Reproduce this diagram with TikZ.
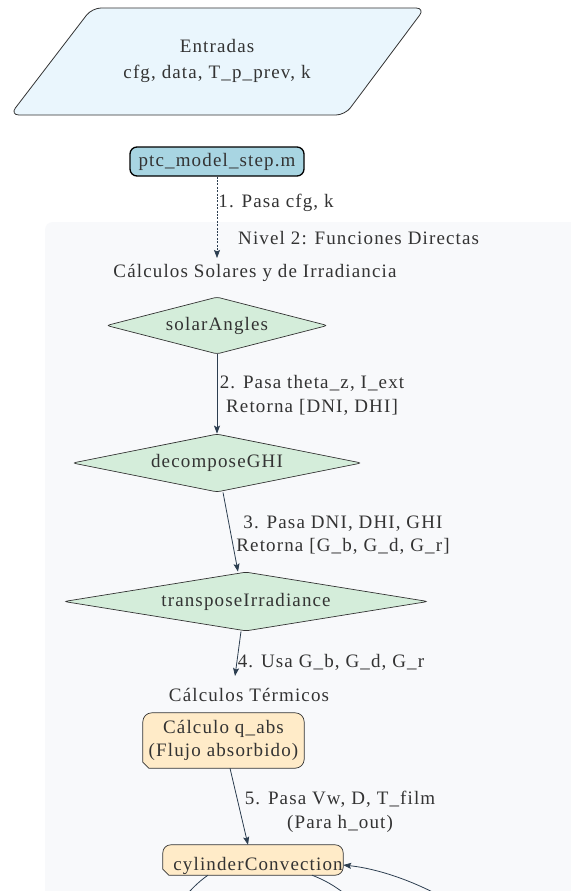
\documentclass[tikz,border=0pt]{standalone}
\usepackage{fontspec}
\setmainfont[LetterSpace=6]{Liberation Serif}
\usetikzlibrary{shapes.geometric,arrows.meta,calc}

\definecolor{inkc}{HTML}{2C3E50}
\definecolor{textc}{HTML}{333333}
\definecolor{edgec}{HTML}{333333}
\definecolor{inputfill}{HTML}{EAF6FD}
\definecolor{scriptfill}{HTML}{A8D5E2}
\definecolor{fnfill}{HTML}{D4EDDA}
\definecolor{thermfill}{HTML}{FFEBC8}
\definecolor{groupfill}{HTML}{F8F9FB}

\pgfdeclarelayer{back}
\pgfdeclarelayer{shapes}
\pgfsetlayers{back,shapes,main}

\tikzset{
  txt/.style={text=textc, inner sep=0pt},
  lbl/.style={txt, align=center},
  scriptbox/.style={rounded corners=7pt, fill=scriptfill, draw=black,
    line width=1.3pt, minimum width=174pt, minimum height=29pt, txt},
  fnbox/.style n args={3}{diamond, fill=fnfill, draw=edgec, line width=0.7pt,
    inner sep=0pt, rounded corners=3pt, txt, aspect=#3,
    minimum width=#1, minimum height=#2},
  thermbox/.style={minimum width=#1, txt, align=center},
  thermshape/.style={fill=thermfill, draw=edgec, line width=0.7pt},
  flow/.style={draw=inkc, line width=0.8pt, -{Stealth[length=8pt,width=6pt,inset=1.5pt]}},
  plainflow/.style={draw=inkc, line width=0.8pt},
  dotflow/.style={flow, dash pattern=on 2pt off 1.4pt, line width=0.6pt}
}

\begin{document}
\begin{tikzpicture}[x=1pt, y=-1pt, font=\fontsize{19}{23.5}\selectfont]
\useasboundingbox (0,0) rectangle (570,891);

% level 2 group background
\begin{pgfonlayer}{back}
  \fill[white] (0,0) rectangle (570,891);
  \fill[groupfill, rounded corners=8pt] (45,222) rectangle (600,930);
\end{pgfonlayer}

% inputs (parallelogram)
\node[lbl, align=center] (entradas) at (217,61) {Entradas\\[2.5pt]cfg, data, T\_p\_prev, k};
\begin{pgfonlayer}{shapes}
  \filldraw[fill=inputfill, draw=edgec, line width=0.8pt, rounded corners=9pt]
    (10,115) -- (92,8) -- (425,8) -- (345,115) -- cycle;
\end{pgfonlayer}

% main script
\node[scriptbox] (ptc) at (217,161.5) {ptc\_model\_step.m};

% group titles
\node[txt, anchor=west] (nivel) at (238,238) {Nivel 2: Funciones Directas};
\node[txt] (solartitle) at (255,273) {Cálculos Solares y de Irradiancia};
\coordinate (solarentry) at (217,258);

% solar / irradiance functions
\node[fnbox={221pt}{57pt}{3.877}] (solar) at (217,325.5) {solarAngles};
\node[fnbox={289pt}{58pt}{4.983}] (decomp) at (217,463) {decomposeGHI};
\node[fnbox={364pt}{59pt}{6.169}] (transp) at (246,601.5) {transposeIrradiance};

% thermal part
\node[txt] (thermtitle) at (249,695) {Cálculos Térmicos};
\coordinate (thermentry) at (235,676);
\node[thermbox=161pt, minimum height=55pt] (qabs) at (223.5,740.5)
  {Cálculo q\_abs\\(Flujo absorbido)};
\node[minimum width=180pt, minimum height=30pt, inner sep=0pt] (cyl) at (253,860) {};
\node[txt] (cyltext) at (258,866) {cylinderConvection};

\begin{pgfonlayer}{shapes}
  \filldraw[thermshape]
    ([xshift=6pt]qabs.south west) -- ([yshift=6pt]qabs.south west)
    [rounded corners=9pt] -- (qabs.north west) -- (qabs.north east)
    -- (qabs.south east) -- ([xshift=20pt]qabs.south west) [sharp corners] -- cycle;
  \filldraw[thermshape]
    ([xshift=6pt]cyl.south west) -- ([yshift=6pt]cyl.south west)
    [rounded corners=8pt] -- (cyl.north west) -- (cyl.north east)
    -- (cyl.south east) -- ([xshift=20pt]cyl.south west) [sharp corners] -- cycle;
\end{pgfonlayer}

% connectors
\draw[dotflow] (ptc.south) -- (solarentry);
\draw[flow] (solar.south) -- (decomp.north);
\draw[flow] ([xshift=6pt]decomp.south) -- ([xshift=-8pt]transp.north);
\draw[flow] ([xshift=-5pt]transp.south) -- (thermentry);
\draw[flow] ([xshift=6.5pt]qabs.south) -- ([xshift=-5pt]cyl.north);

% connectors continuing below
\coordinate (outA) at (165,925);
\coordinate (outB) at (365,912);
\coordinate (inC) at (470,915);
\draw[plainflow] ([xshift=-45pt]cyl.south) .. controls (195,884) and (180,900) .. (outA);
\draw[plainflow] ([xshift=59pt]cyl.south) .. controls (330,882) and (345,892) .. (outB);
\draw[flow] (inC) .. controls (440,892) and (390,870) .. ([yshift=-5pt]cyl.east);

% connector labels
\node[lbl] (l1) at (276,203) {1. Pasa cfg, k};
\node[lbl] (l2) at (312,395.5) {2. Pasa theta\_z, I\_ext\\Retorna [DNI, DHI]};
\node[lbl] (l3) at (343,535) {3. Pasa DNI, DHI, GHI\\Retorna [G\_b, G\_d, G\_r]};
\node[lbl] (l4) at (331,662) {4. Usa G\_b, G\_d, G\_r};
\node[lbl] (l5) at (340,812) {5. Pasa Vw, D, T\_film\\(Para h\_out)};
\end{tikzpicture}
\end{document}
